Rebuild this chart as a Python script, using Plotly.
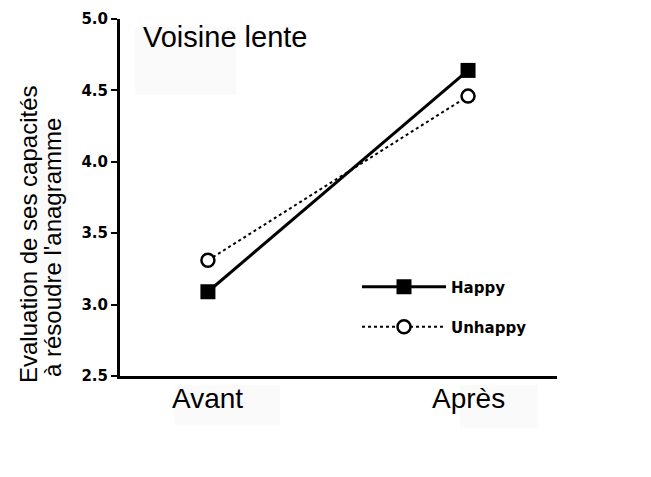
import plotly.graph_objects as go

# data
periods = ["Avant", "Après"]
period_pos = [0, 1]
happy = [3.09, 4.64]
unhappy = [3.31, 4.46]
y_ticks = [2.5, 3.0, 3.5, 4.0, 4.5, 5.0]

# page has an 8px body margin, so the figure is sized to fit inside it
W, H = 643, 469
L, R, T, B = 112, 94, 11, 101
PW = W - L - R
PH = H - T - B


def px_x(x):
    # page pixel -> paper x
    return (x - 8 - L) / PW


def px_y(y):
    # page pixel -> paper y
    return (H - B + 8 - y) / PH


fig = go.Figure()

fig.add_trace(
    go.Scatter(
        x=period_pos,
        y=happy,
        name="Happy",
        legend="legend",
        mode="lines+markers",
        line=dict(color="black", width=3),
        marker=dict(symbol="square", size=15, color="black")
    )
)

fig.add_trace(
    go.Scatter(
        x=period_pos,
        y=unhappy,
        name="Unhappy",
        legend="legend2",
        mode="lines+markers",
        line=dict(color="black", width=2, dash="dot"),
        marker=dict(
            symbol="circle",
            size=13,
            color="white",
            line=dict(width=2.5, color="black")
        )
    )
)

# faint scan patches from the original figure
for x0, y0, x1, y1 in [
    (135, 27, 236, 95),
    (175, 385, 280, 425),
    (460, 385, 538, 428),
    (40, 125, 68, 290),
]:
    fig.add_shape(
        type="rect",
        xref="paper",
        yref="paper",
        x0=px_x(x0),
        x1=px_x(x1),
        y0=px_y(y1),
        y1=px_y(y0),
        fillcolor="#fafafa",
        line=dict(width=0),
        layer="below"
    )

fig.add_annotation(
    text="Voisine lente",
    xref="paper",
    yref="paper",
    x=px_x(141),
    y=px_y(19),
    xanchor="left",
    yanchor="top",
    showarrow=False,
    font=dict(size=29, color="black", family="Liberation Sans")
)

# y title as two rotated lines (tight line spacing)
for text, cx, cy in [
    ("Evaluation de ses capacités", 28, 234),
    ("à résoudre l'anagramme", 53, 248),
]:
    fig.add_annotation(
        text=text,
        xref="paper",
        yref="paper",
        x=px_x(cx),
        y=px_y(cy),
        xanchor="center",
        yanchor="middle",
        textangle=-90,
        showarrow=False,
        font=dict(size=24, color="black", family="Liberation Sans")
    )

# category labels under the axis, placed on the x data positions
for pos, label in zip(period_pos, periods):
    fig.add_annotation(
        text=label,
        xref="x",
        yref="paper",
        x=pos,
        y=px_y(381),
        xanchor="center",
        yanchor="top",
        showarrow=False,
        font=dict(size=28, color="black", family="Liberation Sans")
    )

legend_style = dict(
    xanchor="left",
    yanchor="middle",
    bgcolor="rgba(0,0,0,0)",
    font=dict(size=15, family="DejaVu Sans", weight="bold", color="black"),
    itemwidth=84
)

fig.update_layout(
    width=W,
    height=H,
    margin=dict(l=L, r=R, t=T, b=B, autoexpand=False),
    plot_bgcolor="rgba(0,0,0,0)",
    paper_bgcolor="white",
    font=dict(family="Liberation Sans", color="black"),
    showlegend=True,
    legend=dict(x=px_x(357), y=px_y(287), **legend_style),
    legend2=dict(x=px_x(357), y=px_y(327), **legend_style)
)

fig.update_xaxes(
    range=[-0.338, 1.342],
    tickvals=period_pos,
    showticklabels=False,
    showline=True,
    linecolor="black",
    linewidth=3,
    showgrid=False,
    zeroline=False,
    ticks="",
    automargin=False
)

fig.update_yaxes(
    range=[2.5, 5.0],
    tickvals=y_ticks,
    ticktext=["%.1f" % v for v in y_ticks],
    showline=True,
    linecolor="black",
    linewidth=3,
    showgrid=False,
    zeroline=False,
    ticks="outside",
    ticklen=6,
    tickwidth=2,
    tickcolor="black",
    tickfont=dict(size=15, family="DejaVu Sans", weight="bold"),
    automargin=False
)

fig.write_html("out.html")
